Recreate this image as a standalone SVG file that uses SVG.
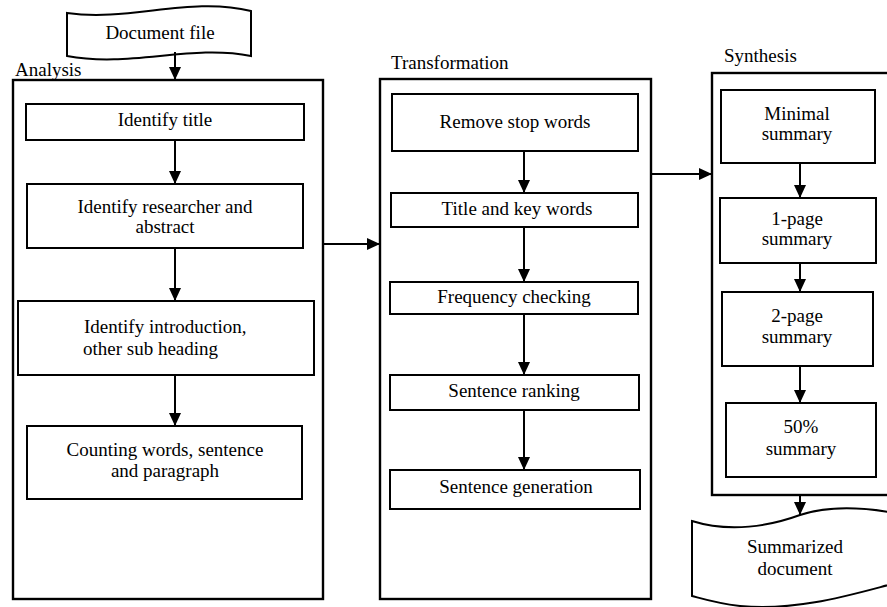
<svg xmlns="http://www.w3.org/2000/svg" width="887" height="607" viewBox="0 0 887 607">
<defs>
<marker id="ah" markerUnits="userSpaceOnUse" markerWidth="14" markerHeight="14" refX="13" refY="6" orient="auto">
<path d="M0,0 L13,6 L0,12 Z" fill="#000"/>
</marker>
<style>
.box{fill:#fff;stroke:#000;stroke-width:2}
.frame{fill:none;stroke:#000;stroke-width:2.4}
.t{font-family:"Liberation Serif","Times New Roman",serif;font-size:19px;fill:#000}
.c{text-anchor:middle}
.cn{fill:none;stroke:#000;stroke-width:2;marker-end:url(#ah)}
</style>
</defs>
<rect width="887" height="607" fill="#fff"/>

<g id="analysis">
<rect class="frame" x="13" y="80" width="310" height="519"/>
<text class="t" x="15" y="76">Analysis</text>
</g>
<g id="transformation">
<rect class="frame" x="380" y="79" width="271" height="520"/>
<text class="t" x="391" y="69">Transformation</text>
</g>
<g id="synthesis">
<rect class="frame" x="712" y="73" width="185" height="422"/>
<text class="t" x="724" y="62">Synthesis</text>
</g>

<g id="document-file">
<path class="box" d="M67,13 C130,22 190,-4 251,11 L251,56 C190,44 130,68 67,56 Z"/>
<text class="t c" x="160" y="39">Document file</text>
</g>

<g id="identify-title">
<rect class="box" x="26" y="104" width="278" height="36"/>
<text class="t c" x="165" y="126">Identify title</text>
</g>
<g id="identify-researcher">
<rect class="box" x="27" y="184" width="276" height="64"/>
<text class="t c" x="165" y="213">Identify researcher and</text>
<text class="t c" x="165" y="233">abstract</text>
</g>
<g id="identify-introduction">
<rect class="box" x="18" y="301" width="296" height="74"/>
<text class="t" x="84" y="333">Identify introduction,</text>
<text class="t" x="83" y="355">other sub heading</text>
</g>
<g id="counting">
<rect class="box" x="27" y="426" width="275" height="73"/>
<text class="t c" x="165" y="456">Counting words, sentence</text>
<text class="t c" x="165" y="477">and paragraph</text>
</g>

<g id="remove-stop-words">
<rect class="box" x="392" y="94" width="246" height="57"/>
<text class="t c" x="515" y="128">Remove stop words</text>
</g>
<g id="title-key-words">
<rect class="box" x="391" y="193" width="247" height="34"/>
<text class="t c" x="517" y="215">Title and key words</text>
</g>
<g id="frequency-checking">
<rect class="box" x="390" y="282" width="248" height="32"/>
<text class="t c" x="514" y="303">Frequency checking</text>
</g>
<g id="sentence-ranking">
<rect class="box" x="390" y="375" width="249" height="35"/>
<text class="t c" x="514" y="397">Sentence ranking</text>
</g>
<g id="sentence-generation">
<rect class="box" x="390" y="470" width="250" height="39"/>
<text class="t c" x="516" y="493">Sentence generation</text>
</g>

<g id="minimal-summary">
<rect class="box" x="721" y="90" width="154" height="73"/>
<text class="t c" x="797" y="120">Minimal</text>
<text class="t c" x="797" y="140">summary</text>
</g>
<g id="one-page-summary">
<rect class="box" x="720" y="198" width="156" height="65"/>
<text class="t c" x="797" y="225">1-page</text>
<text class="t c" x="797" y="245">summary</text>
</g>
<g id="two-page-summary">
<rect class="box" x="722" y="292" width="151" height="74"/>
<text class="t c" x="797" y="322">2-page</text>
<text class="t c" x="797" y="343">summary</text>
</g>
<g id="fifty-summary">
<rect class="box" x="726" y="403" width="150" height="74"/>
<text class="t c" x="801" y="433">50%</text>
<text class="t c" x="801" y="455">summary</text>
</g>

<g id="summarized-document">
<path class="box" d="M692,521 C730,533 770,526 800,515 C830,505 865,507 900,514 L900,582 C860,592 800,612 740,606 C715,603 700,598 692,596 Z"/>
<text class="t c" x="795" y="553">Summarized</text>
<text class="t c" x="795" y="575">document</text>
</g>

<g id="connectors">
<line class="cn" x1="175" y1="52" x2="175" y2="80"/>
<line class="cn" x1="175" y1="140" x2="175" y2="184"/>
<line class="cn" x1="175" y1="248" x2="175" y2="301"/>
<line class="cn" x1="175" y1="375" x2="175" y2="426"/>
<line class="cn" x1="323" y1="244" x2="380" y2="244"/>
<line class="cn" x1="524" y1="151" x2="524" y2="193"/>
<line class="cn" x1="524" y1="227" x2="524" y2="282"/>
<line class="cn" x1="524" y1="314" x2="524" y2="375"/>
<line class="cn" x1="524" y1="410" x2="524" y2="470"/>
<line class="cn" x1="651" y1="174" x2="712" y2="174"/>
<line class="cn" x1="800" y1="163" x2="800" y2="198"/>
<line class="cn" x1="800" y1="263" x2="800" y2="292"/>
<line class="cn" x1="800" y1="366" x2="800" y2="403"/>
<line class="cn" x1="800" y1="495" x2="800" y2="515"/>
</g>
</svg>
